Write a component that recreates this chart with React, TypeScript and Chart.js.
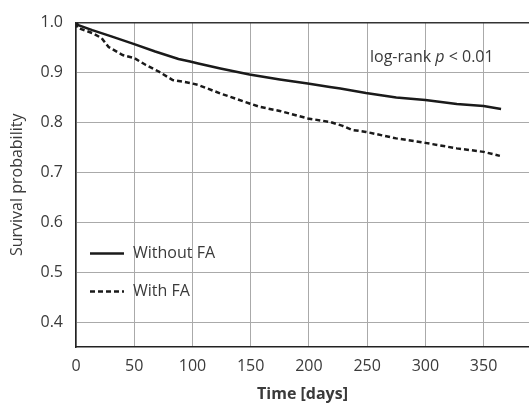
import React, { useEffect, useRef } from "react";
import { Chart, registerables } from "chart.js";

Chart.register(...registerables);

const withoutFaDays = [0, 2, 14, 31, 50, 68, 88, 98, 105, 124, 149, 175, 199, 218, 227, 249, 275, 300, 327, 350, 365];
const withoutFaSurv = [1.0, 0.995, 0.985, 0.972, 0.957, 0.942, 0.927, 0.922, 0.918, 0.908, 0.896, 0.886, 0.878, 0.871, 0.868, 0.859, 0.85, 0.845, 0.837, 0.833, 0.827];

const withFaDays = [0, 1, 14, 22, 28, 40, 50, 60, 71, 83, 98, 105, 124, 149, 158, 175, 199, 218, 229, 237, 249, 275, 300, 327, 350, 364];
const withFaSurv = [1.0, 0.99, 0.979, 0.969, 0.951, 0.935, 0.929, 0.915, 0.902, 0.885, 0.879, 0.875, 0.858, 0.838, 0.831, 0.823, 0.808, 0.801, 0.793, 0.785, 0.781, 0.768, 0.759, 0.748, 0.741, 0.733];

const seriesLabels = ["Without FA", "With FA"];
const xTickValues = [0, 50, 100, 150, 200, 250, 300, 350];
const yTickValues = [0.4, 0.5, 0.6, 0.7, 0.8, 0.9, 1.0];
const annotationText = ["log-rank ", "p", " < 0.01"];

const FONT = "'Open Sans', 'Noto Sans', sans-serif";
const TEXT = "#3a3a3a";
const FS = 16;

const overlayPlugin = {
  id: "overlay",
  afterDatasetsDraw(chart: any) {
    const { ctx, chartArea } = chart;
    ctx.save();
    const ds = chart.data.datasets;
    const lx = chartArea.left + 14;
    const ly = [chartArea.top + 231, chartArea.top + 269];
    ds.forEach((d: any, i: number) => {
      ctx.beginPath();
      ctx.strokeStyle = d.borderColor;
      ctx.lineWidth = d.borderWidth;
      ctx.setLineDash(d.borderDash || []);
      ctx.moveTo(lx, ly[i]);
      ctx.lineTo(lx + 34, ly[i]);
      ctx.stroke();
      ctx.setLineDash([]);
      ctx.fillStyle = TEXT;
      ctx.font = `${FS}px ${FONT}`;
      ctx.textBaseline = "middle";
      ctx.textAlign = "left";
      ctx.fillText(d.label, lx + 43, ly[i]);
    });
    let x = chartArea.left + 294;
    const y = chartArea.top + 39;
    ctx.textBaseline = "alphabetic";
    annotationText.forEach((t, i) => {
      ctx.font = i === 1 ? `italic ${FS}px ${FONT}` : `${FS}px ${FONT}`;
      ctx.fillText(t, x, y);
      x += ctx.measureText(t).width;
    });
    ctx.restore();
  },
};

export default function App() {
  const ref = useRef<HTMLCanvasElement>(null);
  useEffect(() => {
    if (!ref.current) return;
    const chart = new Chart(ref.current, {
      type: "line",
      data: {
        datasets: [
          {
            label: seriesLabels[0],
            data: withoutFaDays.map((d, i) => ({ x: d, y: withoutFaSurv[i] })),
            borderColor: "#1a1a1a",
            borderWidth: 2.5,
            pointRadius: 0,
            fill: false,
            tension: 0,
          },
          {
            label: seriesLabels[1],
            data: withFaDays.map((d, i) => ({ x: d, y: withFaSurv[i] })),
            borderColor: "#1a1a1a",
            borderWidth: 2.5,
            borderDash: [5, 3],
            pointRadius: 0,
            fill: false,
            tension: 0,
          },
        ],
      },
      options: {
        responsive: false,
        animation: false,
        layout: { padding: { top: 22, right: 0, left: 0, bottom: 0 } },
        plugins: { legend: { display: false }, tooltip: { enabled: false } },
        scales: {
          x: {
            type: "linear",
            min: 0,
            max: 389,
            afterBuildTicks: (s: any) => {
              s.ticks = xTickValues.map((v) => ({ value: v }));
            },
            afterFit: (s: any) => {
              s.height = 58;
            },
            ticks: {
              color: TEXT,
              font: { family: FONT, size: FS },
              padding: 10,
              maxRotation: 0,
            },
            grid: { color: "#aaaaaa", lineWidth: 1, drawTicks: false },
            border: { color: "#222222", width: 1.5 },
            title: {
              display: true,
              text: "Time [days]",
              color: TEXT,
              font: { family: FONT, size: FS, weight: "bold" },
              padding: { top: 0, bottom: 1 },
            },
          },
          y: {
            type: "linear",
            min: 0.35,
            max: 1.0,
            afterBuildTicks: (s: any) => {
              s.ticks = yTickValues.map((v) => ({ value: v }));
            },
            afterFit: (s: any) => {
              s.width = 76;
            },
            ticks: {
              color: TEXT,
              font: { family: FONT, size: FS },
              padding: 13,
              callback: (v: any) => Number(v).toFixed(1),
            },
            grid: {
              color: (c: any) => (c.tick && Math.abs(c.tick.value - 1) < 1e-6 ? "#333333" : "#aaaaaa"),
              lineWidth: (c: any) => (c.tick && Math.abs(c.tick.value - 1) < 1e-6 ? 1.5 : 1),
              drawTicks: false,
            },
            border: { color: "#222222", width: 1.5 },
            title: {
              display: true,
              text: "Survival probability",
              color: TEXT,
              font: { family: FONT, size: FS },
              padding: { top: 8, bottom: 0 },
            },
          },
        },
      },
      plugins: [overlayPlugin],
    } as any);
    return () => chart.destroy();
  }, []);
  return (
    <div style={{ position: "absolute", left: 0, top: 0, width: 529, height: 405, background: "#fff" }}>
      <canvas ref={ref} width={529} height={405} style={{ width: 529, height: 405 }} />
    </div>
  );
}
